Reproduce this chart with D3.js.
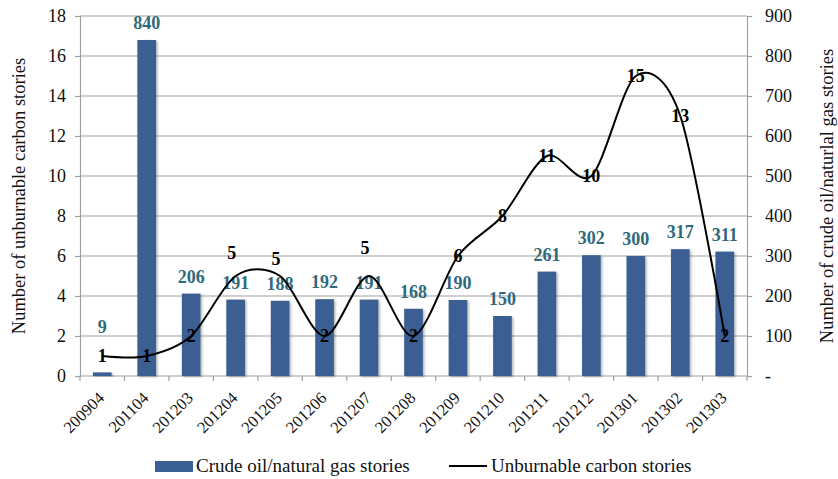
<!DOCTYPE html>
<html>
<head>
<meta charset="utf-8">
<script src="https://cdn.jsdelivr.net/npm/d3@7"></script>
<style>
  body { margin: 0; background: #fff; }
</style>
</head>
<body>
<div id="chart"></div>
<script>
  // months on the x axis
  const categories = ['200904', '201104', '201203', '201204', '201205', '201206', '201207',
    '201208', '201209', '201210', '201211', '201212', '201301', '201302', '201303'];
  // bars, right axis
  const crudeOilStories = [9, 840, 206, 191, 188, 192, 191, 168, 190, 150, 261, 302, 300, 317, 311];
  // line, left axis
  const unburnableStories = [1, 1, 2, 5, 5, 2, 5, 2, 6, 8, 11, 10, 15, 13, 2];
  const leftTicks = [0, 2, 4, 6, 8, 10, 12, 14, 16, 18];
  const rightTicks = [0, 100, 200, 300, 400, 500, 600, 700, 800, 900];

  let width = 838;
  let height = 479;
  let plotLeft = 80, plotRight = 747, plotTop = 16, plotBottom = 376;
  let font = 'Liberation Serif, Times, DejaVu Serif, serif';

  // labels that were nudged by hand in the original
  let barLabelLift = {'200904': 28};
  let lineLabelLift = {'201204': 23, '201205': 17, '201207': 28};

  let svg = d3.select('#chart')
  .append('svg')
  .attr('width', width)
  .attr('height', height)
  .attr('font-family', font);

  let defs = svg.append('defs');
  let shadow = defs.append('filter').attr('id', 'shadow')
  .attr('x', '-20%').attr('y', '-5%').attr('width', '150%').attr('height', '115%');
  shadow.append('feDropShadow')
  .attr('dx', 1.5).attr('dy', 1).attr('stdDeviation', 1.2)
  .attr('flood-color', '#000').attr('flood-opacity', 0.3);

  let x = d3.scaleBand().domain(categories).range([plotLeft, plotRight])
  .paddingInner(0.58).paddingOuter(0.29);
  let step = (plotRight - plotLeft) / categories.length;
  let yLeft = d3.scaleLinear().domain([0, 18]).range([plotBottom, plotTop]);
  let yRight = d3.scaleLinear().domain([0, 900]).range([plotBottom, plotTop]);
  let cx = (d) => x(d) + x.bandwidth() / 2;

  //gridlines
  svg.append('g')
  .selectAll('line')
  .data(leftTicks.slice(1))
  .enter().append('line')
  .attr('x1', plotLeft).attr('x2', plotRight)
  .attr('y1', (d) => yLeft(d)).attr('y2', (d) => yLeft(d))
  .attr('stroke', '#a0a0a0').attr('stroke-width', 1.2);

  //left axis
  let axisL = svg.append('g')
  .attr('transform', `translate(${plotLeft},0)`)
  .call(d3.axisLeft(yLeft).tickValues(leftTicks).tickSize(5).tickPadding(9));
  //right axis
  let axisR = svg.append('g')
  .attr('transform', `translate(${plotRight},0)`)
  .call(d3.axisRight(yRight).tickValues(rightTicks).tickSize(5).tickPadding(13)
    .tickFormat((d) => d === 0 ? '-' : d));
  [axisL, axisR].forEach((a) => {
    a.attr('font-family', font).attr('font-size', 18);
    a.select('.domain').attr('stroke', '#a0a0a0').attr('stroke-width', 1.2);
    a.selectAll('.tick line').attr('stroke', '#a0a0a0').attr('stroke-width', 1.2);
    a.selectAll('.tick text').attr('fill', '#111');
  });

  //bottom axis with ticks between categories
  svg.append('line')
  .attr('x1', plotLeft).attr('x2', plotRight).attr('y1', plotBottom).attr('y2', plotBottom)
  .attr('stroke', '#a0a0a0').attr('stroke-width', 1.2);
  svg.append('g')
  .selectAll('line')
  .data(d3.range(categories.length + 1))
  .enter().append('line')
  .attr('x1', (i) => plotLeft + i * step).attr('x2', (i) => plotLeft + i * step)
  .attr('y1', plotBottom).attr('y2', plotBottom + 5)
  .attr('stroke', '#a0a0a0').attr('stroke-width', 1.2);
  svg.append('g')
  .selectAll('text')
  .data(categories)
  .enter().append('text')
  .attr('transform', (d) => `translate(${cx(d) + 3},${plotBottom + 23}) rotate(-45)`)
  .attr('text-anchor', 'end')
  .attr('font-size', 16.5)
  .attr('fill', '#111')
  .text((d) => d);

  //bars
  svg.append('g')
  .selectAll('rect')
  .data(categories)
  .enter().append('rect')
  .attr('x', (d) => x(d))
  .attr('width', x.bandwidth())
  .attr('y', (d, i) => yRight(crudeOilStories[i]))
  .attr('height', (d, i) => plotBottom - yRight(crudeOilStories[i]))
  .attr('fill', '#3a5f92')
  .attr('filter', 'url(#shadow)');

  svg.append('g')
  .selectAll('text')
  .data(categories)
  .enter().append('text')
  .attr('x', (d) => cx(d))
  .attr('y', (d, i) => yRight(crudeOilStories[i]) - 11 - (barLabelLift[d] || 0))
  .attr('text-anchor', 'middle')
  .attr('font-size', 18)
  .attr('font-weight', 'bold')
  .attr('fill', '#2f6a7c')
  .text((d, i) => crudeOilStories[i]);

  //smoothed line
  let line = d3.line()
  .x((d) => cx(d))
  .y((d, i) => yLeft(unburnableStories[i]))
  .curve(d3.curveCardinal.tension(0.1));

  svg.append('path')
  .datum(categories)
  .attr('d', line)
  .attr('fill', 'none')
  .attr('stroke', '#000')
  .attr('stroke-width', 2);

  svg.append('g')
  .selectAll('text')
  .data(categories)
  .enter().append('text')
  .attr('x', (d) => cx(d) - (lineLabelLift[d] ? 4 : 0))
  .attr('y', (d, i) => yLeft(unburnableStories[i]) + 6 - (lineLabelLift[d] || 0))
  .attr('text-anchor', 'middle')
  .attr('font-size', 18)
  .attr('font-weight', 'bold')
  .attr('fill', '#000')
  .text((d, i) => unburnableStories[i]);

  //axis titles
  svg.append('text')
  .attr('transform', `translate(25,${(plotTop + plotBottom) / 2}) rotate(-90)`)
  .attr('text-anchor', 'middle')
  .attr('font-size', 18.5)
  .attr('fill', '#111')
  .text('Number of unburnable carbon stories');
  svg.append('text')
  .attr('transform', `translate(833,${(plotTop + plotBottom) / 2}) rotate(-90)`)
  .attr('text-anchor', 'middle')
  .attr('font-size', 18.5)
  .attr('fill', '#111')
  .text('Number of crude oil/naturlal gas stories');

  //legend
  let legend = svg.append('g').attr('transform', 'translate(0,466)');
  legend.append('rect')
  .attr('x', 155).attr('y', -5).attr('width', 38).attr('height', 11)
  .attr('fill', '#3a5f92');
  legend.append('text')
  .attr('x', 196).attr('y', 6)
  .attr('font-size', 19).attr('fill', '#111')
  .text('Crude oil/natural gas stories');
  legend.append('line')
  .attr('x1', 449).attr('x2', 487).attr('y1', 0).attr('y2', 0)
  .attr('stroke', '#000').attr('stroke-width', 2);
  legend.append('text')
  .attr('x', 491).attr('y', 6)
  .attr('font-size', 19).attr('fill', '#111')
  .text('Unburnable carbon stories');
</script>
</body>
</html>
